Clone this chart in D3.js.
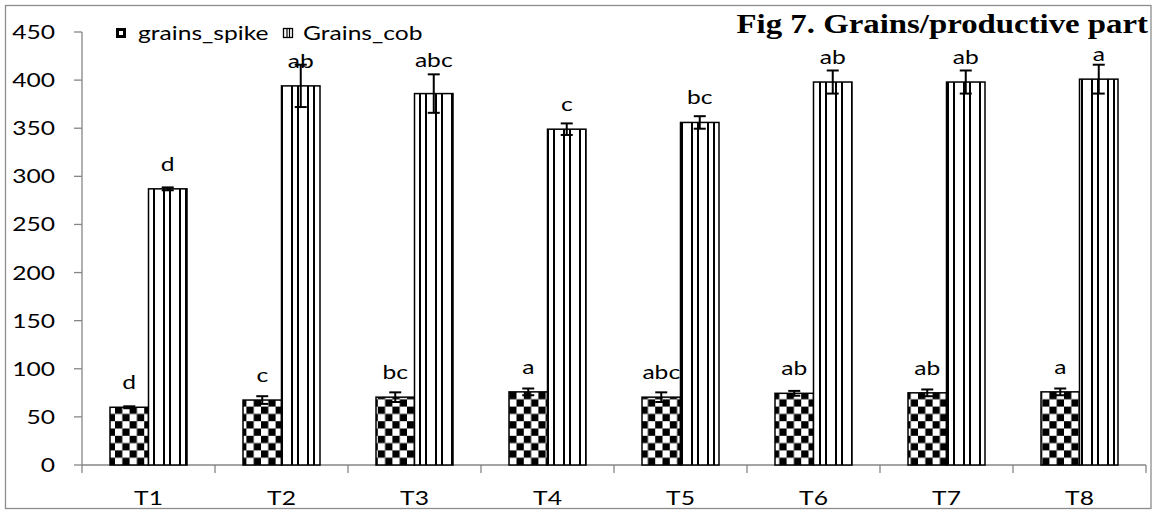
<!DOCTYPE html>
<html><head><meta charset="utf-8">
<script src="https://cdn.jsdelivr.net/npm/d3@7"></script>
<style>html,body{margin:0;padding:0;background:#fff;}</style>
</head><body>
<svg id="chart" width="1159" height="510"></svg>
<script>
const categories = ["T1","T2","T3","T4","T5","T6","T7","T8"];
const spikeValues = [60, 67.5, 70.5, 76, 70.5, 74.5, 75, 76];
const spikeErrors = [1, 4, 5, 3.5, 5, 2.5, 3.5, 3.5];
const cobValues = [287, 394, 386, 349, 356, 398, 398, 401];
const cobErrors = [1.5, 22, 20, 6, 6.5, 12, 12, 15];
const spikeLetters = ["d","c","bc","a","abc","ab","ab","a"];
const cobLetters = ["d","ab","abc","c","bc","ab","ab","a"];
const yTicks = [0,50,100,150,200,250,300,350,400,450];
const seriesNames = ["grains_spike","Grains_cob"];
const titleText = "Fig 7. Grains/productive part";

const svg = d3.select("#chart");
const SX = 1.23;
const FONT = "Lato, 'Open Sans', sans-serif";
const AX = "#868686";

// frame
svg.append("rect").attr("x",5.5).attr("y",5.5).attr("width",1145.5).attr("height",503)
  .attr("fill","none").attr("stroke","#8c8c8c").attr("stroke-width",1.3);

const x = d3.scaleBand().domain(categories).range([82,1146]).paddingInner(0).paddingOuter(0);
const y = d3.scaleLinear().domain([0,450]).range([465,32]);
const barW = 38.5;

// patterns
const defs = svg.append("defs");
const cs = 7.3;
const chk = defs.append("pattern").attr("id","chk").attr("patternUnits","userSpaceOnUse")
  .attr("width",cs*2).attr("height",cs*2).attr("x",115 % (cs*2)).attr("y",465 % (cs*2));
chk.append("rect").attr("width",cs*2).attr("height",cs*2).attr("fill","#fff");
chk.append("rect").attr("x",0).attr("y",0).attr("width",cs).attr("height",cs).attr("fill","#000");
chk.append("rect").attr("x",cs).attr("y",cs).attr("width",cs).attr("height",cs).attr("fill","#000");

const vs = defs.append("pattern").attr("id","vstripe").attr("patternUnits","userSpaceOnUse")
  .attr("width",16).attr("height",16).attr("x",0).attr("y",0);
vs.append("rect").attr("width",16).attr("height",16).attr("fill","#fff");
vs.append("rect").attr("x",3).attr("width",2).attr("height",16).attr("fill","#000");
vs.append("rect").attr("x",9).attr("width",2).attr("height",16).attr("fill","#000");

// legend swatch patterns (small)
const chkS = defs.append("pattern").attr("id","chkS").attr("patternUnits","userSpaceOnUse")
  .attr("width",4).attr("height",4);
chkS.append("rect").attr("width",4).attr("height",4).attr("fill","#fff");
chkS.append("rect").attr("width",2).attr("height",2).attr("fill","#000");
chkS.append("rect").attr("x",2).attr("y",2).attr("width",2).attr("height",2).attr("fill","#000");

function stretchText(g, tx, ty, txt, opts) {
  return g.append("text")
    .attr("transform", `translate(${tx},${ty}) scale(${SX},1)`)
    .attr("text-anchor", opts.anchor || "middle")
    .attr("font-family", opts.family || FONT)
    .attr("font-size", opts.size || 20)
    .attr("font-weight", opts.weight || "normal")
    .attr("fill", "#000")
    .text(txt);
}

// y axis
const gy = svg.append("g");
gy.append("line").attr("x1",82).attr("x2",82).attr("y1",y(450)).attr("y2",y(0)).attr("stroke",AX).attr("stroke-width",1.3);
yTicks.forEach(t => {
  gy.append("line").attr("x1",74).attr("x2",82).attr("y1",y(t)).attr("y2",y(t)).attr("stroke",AX).attr("stroke-width",1.3);
  stretchText(gy, 55, y(t)+7, String(t), {anchor:"end", size:20});
});

// x axis
const gx = svg.append("g");
gx.append("line").attr("x1",82).attr("x2",1146).attr("y1",465).attr("y2",465).attr("stroke",AX).attr("stroke-width",1.3);
categories.forEach((c,i) => {
  const x0 = x(c);
  gx.append("line").attr("x1",x0).attr("x2",x0).attr("y1",465).attr("y2",473).attr("stroke",AX).attr("stroke-width",1.3);
  if (i === categories.length-1) {
    gx.append("line").attr("x1",x0+x.bandwidth()).attr("x2",x0+x.bandwidth()).attr("y1",465).attr("y2",473).attr("stroke",AX).attr("stroke-width",1.3);
  }
  stretchText(gx, x0 + x.bandwidth()/2, 505, c, {size:20});
});

// bars
const series = [
  {vals: spikeValues, errs: spikeErrors, letters: spikeLetters, fill: "url(#chk)", off: -barW},
  {vals: cobValues, errs: cobErrors, letters: cobLetters, fill: "url(#vstripe)", off: 0}
];
const gb = svg.append("g");
series.forEach((s, si) => {
  categories.forEach((c, i) => {
    const cx = x(c) + x.bandwidth()/2;
    const bx = cx + s.off;
    gb.append("rect").attr("x",bx).attr("y",y(s.vals[i])).attr("width",barW)
      .attr("height", y(0)-y(s.vals[i])).attr("fill", s.fill)
      .attr("stroke","#000").attr("stroke-width",1.5);
  });
});
// error bars and letters
series.forEach((s, si) => {
  categories.forEach((c, i) => {
    const cx = x(c) + x.bandwidth()/2 + s.off + barW/2;
    const hi = y(s.vals[i] + s.errs[i]), lo = y(s.vals[i] - s.errs[i]);
    gb.append("line").attr("x1",cx).attr("x2",cx).attr("y1",hi).attr("y2",lo).attr("stroke","#000").attr("stroke-width",2);
    [hi,lo].forEach(yy => gb.append("line").attr("x1",cx-6).attr("x2",cx+6).attr("y1",yy).attr("y2",yy).attr("stroke","#000").attr("stroke-width",2));
    const nudge = (si === 1 && i === 2) ? -9 : 0;
    stretchText(gb, cx, y(s.vals[i]) - 18 + nudge, s.letters[i], {size:20});
  });
});

// legend
const gl = svg.append("g");
gl.append("rect").attr("x",116.5).attr("y",28.5).attr("width",9).attr("height",9).attr("fill","#000").attr("stroke","#000");
gl.append("rect").attr("x",119).attr("y",31).attr("width",4).attr("height",4).attr("fill","#fff");
stretchText(gl, 138, 40, seriesNames[0], {anchor:"start", size:20});
gl.append("rect").attr("x",283.5).attr("y",28.5).attr("width",9).attr("height",9).attr("fill","#fff").attr("stroke","#000").attr("stroke-width",1.3);
gl.append("line").attr("x1",287).attr("x2",287).attr("y1",28.5).attr("y2",37.5).attr("stroke","#000").attr("stroke-width",1.2);
gl.append("line").attr("x1",289.5).attr("x2",289.5).attr("y1",28.5).attr("y2",37.5).attr("stroke","#000").attr("stroke-width",1.2);
stretchText(gl, 303, 40, seriesNames[1], {anchor:"start", size:20});

// title
stretchText(svg, 1148, 33, titleText, {anchor:"end", size:26.7, weight:"bold", family:"'Liberation Serif', 'Times New Roman', serif"});
</script>
</body></html>
